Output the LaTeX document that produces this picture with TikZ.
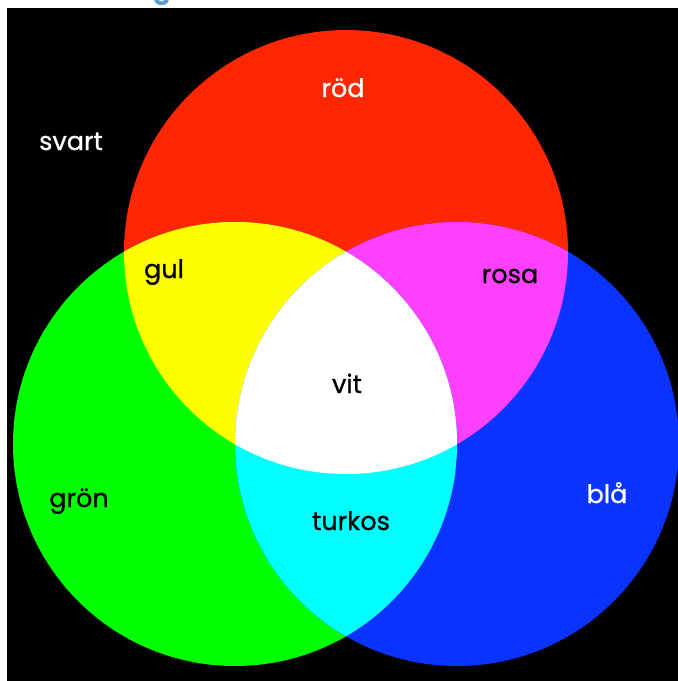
\documentclass[tikz,border=0pt]{standalone}
\usepackage{fontspec}
\setmainfont{Poppins}
\newfontfamily\lblfont{Poppins}[FakeBold=0.9]
\definecolor{cred}{HTML}{FF2600}
\definecolor{cgreen}{HTML}{00FF00}
\definecolor{cblue}{HTML}{0A33FF}
\definecolor{cyellow}{HTML}{FFFF00}
\definecolor{cmagenta}{HTML}{FF40FF}
\definecolor{ccyan}{HTML}{00FFFF}
\definecolor{headblue}{HTML}{5B9BD5}
\begin{document}
\begin{tikzpicture}[x=1pt,y=-1pt,
  lbl/.style={anchor=base,inner sep=0pt,font=\lblfont\fontsize{25.5}{30}\selectfont},
  dark/.style={lbl,text=black},
  light/.style={lbl,text=white}]
\useasboundingbox (0,0) rectangle (678,681);
\fill[white] (0,0) rectangle (678,681);
\node[anchor=base,inner sep=0pt,text=headblue,font=\fontsize{26}{30}\selectfont\bfseries] (head) at (162,-2) {g};
\fill[black] (7,8) rectangle (678,681);
\def\rc{(346,252) circle (222)}
\def\gc{(235,444) circle (222)}
\def\bc{(457,444) circle (222)}
\fill[cred] \rc;
\fill[cgreen] \gc;
\fill[cblue] \bc;
\begin{scope}\clip \rc; \fill[cyellow] \gc; \end{scope}
\begin{scope}\clip \rc; \fill[cmagenta] \bc; \end{scope}
\begin{scope}\clip \gc; \fill[ccyan] \bc; \end{scope}
\begin{scope}\clip \rc; \clip \gc; \fill[white] \bc; \end{scope}
\node[light] (rod) at (343,97) {röd};
\node[light] (svart) at (71,150) {svart};
\node[dark] (gul) at (164,278) {gul};
\node[dark] (rosa) at (510,283) {rosa};
\node[dark] (vit) at (347,393) {vit};
\node[dark] (gron) at (79,507) {grön};
\node[dark] (turkos) at (351,530) {turkos};
\node[light] (bla) at (607,503) {blå};
\end{tikzpicture}
\end{document}
